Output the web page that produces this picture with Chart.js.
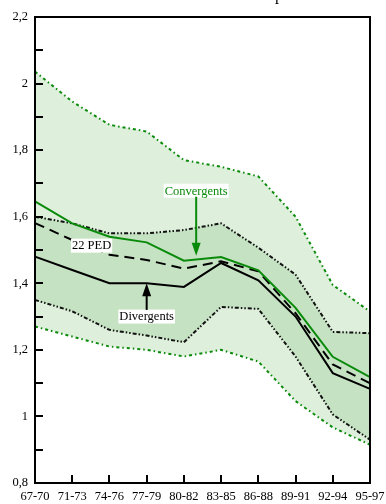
<!DOCTYPE html>
<html>
<head>
<meta charset="utf-8">
<script src="https://cdn.jsdelivr.net/npm/chart.js@4/dist/chart.umd.min.js"></script>
<style>
    html, body {
        margin: 0;
        padding: 0;
        background: #fff;
    }
    #wrap {
        width: 386px;
        height: 504px;
    }
</style>
</head>
<body>
<div id="wrap"><canvas id="grafico" width="386" height="504"></canvas></div>
<script>
const periods = ["67-70", "71-73", "74-76", "77-79", "80-82", "83-85", "86-88", "89-91", "92-94", "95-97"];

const convMean = [1.646, 1.58, 1.54, 1.523, 1.468, 1.479, 1.439, 1.326, 1.179, 1.118];
const divMean = [1.48, 1.44, 1.40, 1.40, 1.389, 1.461, 1.409, 1.30, 1.13, 1.083];
const ped22 = [1.581, 1.53, 1.486, 1.47, 1.444, 1.466, 1.436, 1.31, 1.156, 1.10];

const convMax = [2.036, 1.946, 1.876, 1.856, 1.77, 1.75, 1.721, 1.60, 1.395, 1.315];
const convMin = [1.27, 1.24, 1.21, 1.20, 1.18, 1.20, 1.165, 1.046, 0.967, 0.915];
const divMax = [1.60, 1.58, 1.55, 1.55, 1.56, 1.58, 1.507, 1.426, 1.254, 1.25];
const divMin = [1.35, 1.316, 1.26, 1.243, 1.223, 1.329, 1.323, 1.18, 1.006, 0.93];

const yTicks = { min: 0.8, max: 2.2, step: 0.1 };

const GREEN = "#0a8a0a";
const FONT = "'Liberation Serif', 'Times New Roman', serif";


function formatTick(value) {
    const r = Math.round(value * 10);
    if (r % 2 !== 0) {
        return "";
    }
    return String(r / 10).replace(".", ",");
}


function drawArrow(ctx, x, y1, y2, color) {
    // shaft from y1 to the tip at y2
    const dir = y2 > y1 ? 1 : -1;
    ctx.strokeStyle = color;
    ctx.fillStyle = color;
    ctx.lineWidth = 2;
    ctx.beginPath();
    ctx.moveTo(x, y1);
    ctx.lineTo(x, y2 - dir * 10);
    ctx.stroke();
    ctx.beginPath();
    ctx.moveTo(x, y2);
    ctx.lineTo(x - 4.5, y2 - dir * 13);
    ctx.lineTo(x + 4.5, y2 - dir * 13);
    ctx.closePath();
    ctx.fill();
}


function drawLabel(ctx, text, x, y, color) {
    ctx.font = "12.5px " + FONT;
    const w = ctx.measureText(text).width;
    ctx.fillStyle = "#fff";
    ctx.fillRect(x - w / 2 - 1, y - 7, w + 2, 14);
    ctx.fillStyle = color;
    ctx.textAlign = "center";
    ctx.textBaseline = "middle";
    ctx.fillText(text, x, y + 0.5);
}


const frame = {
    id: "frame",
    afterDraw(chart) {
        const ctx = chart.ctx;
        const area = chart.chartArea;
        const x = chart.scales.x;
        const y = chart.scales.y;

        ctx.save();
        ctx.strokeStyle = "#000";
        ctx.lineWidth = 2;
        ctx.strokeRect(area.left, area.top, area.right - area.left, area.bottom - area.top);

        // inward tick marks
        ctx.beginPath();
        y.ticks.forEach(t => {
            const py = Math.round(y.getPixelForValue(t.value));
            ctx.moveTo(area.left, py);
            ctx.lineTo(area.left + 8, py);
        });
        periods.forEach((p, i) => {
            const px = Math.round(x.getPixelForValue(i));
            ctx.moveTo(px, area.bottom);
            ctx.lineTo(px, area.bottom - 8);
        });
        ctx.stroke();

        // annotations
        drawLabel(ctx, "Convergents", x.getPixelForValue(4.33), y.getPixelForValue(1.678), GREEN);
        drawArrow(ctx, x.getPixelForValue(4.33), y.getPixelForValue(1.66), y.getPixelForValue(1.483), GREEN);

        drawLabel(ctx, "22 PED", x.getPixelForValue(1.52), y.getPixelForValue(1.513), "#000");

        drawLabel(ctx, "Divergents", x.getPixelForValue(3), y.getPixelForValue(1.30), "#000");
        drawArrow(ctx, x.getPixelForValue(3), y.getPixelForValue(1.32), y.getPixelForValue(1.40), "#000");

        // clipped title fragment at the top edge
        ctx.fillStyle = "#000";
        ctx.font = "16px " + FONT;
        ctx.textAlign = "left";
        ctx.textBaseline = "alphabetic";
        ctx.fillText("p", 275, 0);
        ctx.restore();
    }
};


function lineSet(data, color, dash, extra) {
    return Object.assign({
        data,
        borderColor: color,
        borderWidth: 2,
        borderDash: dash,
        pointRadius: 0,
        tension: 0,
        fill: false
    }, extra || {});
}


document.addEventListener("DOMContentLoaded", () => {
    const ctx = document.getElementById("grafico").getContext("2d");

    new Chart(ctx, {
        type: "line",
        data: {
            labels: periods,
            datasets: [
                lineSet(convMean, GREEN, [], { order: 1 }),
                lineSet(divMean, "#000", [], { order: 2 }),
                lineSet(ped22, "#000", [10, 6], { order: 3 }),
                lineSet(convMax, GREEN, [3, 3, 1.5, 3], {
                    order: 10,
                    fill: 4,
                    backgroundColor: "#deefdc"
                }),
                lineSet(convMin, GREEN, [3, 3, 1.5, 3], { order: 9 }),
                lineSet(divMax, "#111", [4, 2, 1.5, 2, 1.5, 2], {
                    order: 8,
                    fill: 6,
                    backgroundColor: "#c5e3c2"
                }),
                lineSet(divMin, "#111", [4, 2, 1.5, 2, 1.5, 2], { order: 7 })
            ]
        },
        options: {
            responsive: false,
            animation: false,
            layout: {
                padding: { top: 17, right: 16, left: 0, bottom: 0 }
            },
            plugins: {
                legend: { display: false },
                tooltip: { enabled: false },
                filler: { drawTime: "beforeDatasetsDraw" }
            },
            scales: {
                x: {
                    offset: false,
                    grid: { display: false, drawTicks: false },
                    border: { display: false },
                    ticks: {
                        color: "#000",
                        padding: 6,
                        maxRotation: 0,
                        autoSkip: false,
                        font: { family: FONT, size: 12.5 }
                    },
                    afterFit(scale) {
                        scale.height = 21;
                        scale.paddingLeft = 0;
                        scale.paddingRight = 0;
                    }
                },
                y: {
                    min: yTicks.min,
                    max: yTicks.max,
                    grid: { display: false, drawTicks: false },
                    border: { display: false },
                    ticks: {
                        stepSize: yTicks.step,
                        color: "#000",
                        padding: 7,
                        autoSkip: false,
                        font: { family: FONT, size: 12.5 },
                        callback: formatTick
                    },
                    afterFit(scale) {
                        scale.width = 35;
                        scale.paddingTop = 0;
                        scale.paddingBottom = 0;
                    }
                }
            }
        },
        plugins: [frame]
    });
});
</script>
</body>
</html>
